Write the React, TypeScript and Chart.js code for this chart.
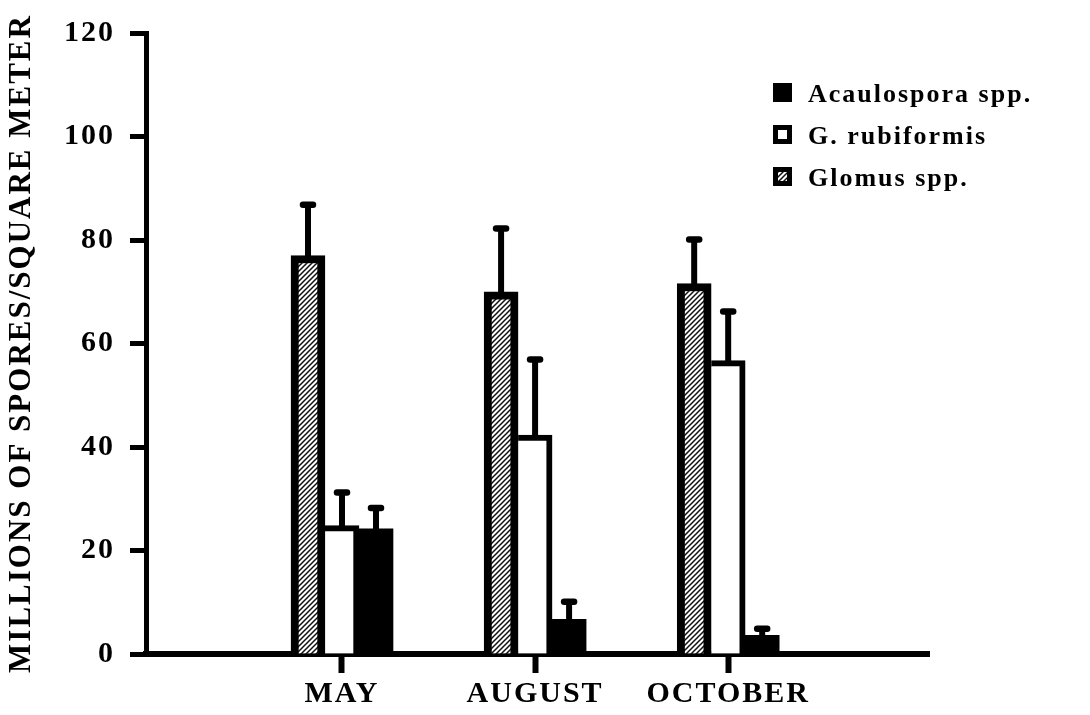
import React, { useEffect, useRef } from 'react';
import { Chart, registerables } from 'chart.js';

Chart.register(...registerables);

// Sampling months along the x axis
const categories = ['MAY', 'AUGUST', 'OCTOBER'];

// Mean spore counts (millions per square meter) and the tops of their error bars
const glomusMeans = [77, 70, 71.6];
const glomusUpper = [86.8, 82.2, 80.1];
const rubiformisMeans = [24.8, 42.3, 56.7];
const rubiformisUpper = [31.2, 56.9, 66.2];
const acaulosporaMeans = [24.2, 6.7, 3.6];
const acaulosporaUpper = [28.2, 10.1, 4.9];

// Series names, in drawing order (left to right within a month)
const seriesNames = ['Glomus spp.', 'G. rubiformis', 'Acaulospora spp.'];

// Y axis tick values and title
const yTicks = [0, 20, 40, 60, 80, 100, 120];
const yTitle = 'MILLIONS OF SPORES/SQUARE METER';

const SERIF = "'Liberation Serif', 'Times New Roman', serif";

function makeHatch(): CanvasPattern | string {
  const size = 5;
  const c = document.createElement('canvas');
  c.width = size;
  c.height = size;
  const g = c.getContext('2d');
  if (!g) return '#fff';
  g.fillStyle = '#fff';
  g.fillRect(0, 0, size, size);
  g.strokeStyle = '#111';
  g.lineWidth = 1.5;
  g.beginPath();
  g.moveTo(-1, size + 1);
  g.lineTo(size + 1, -1);
  g.moveTo(-size / 2 - 1, size / 2 + 1);
  g.lineTo(size / 2 + 1, -size / 2 - 1);
  g.moveTo(size / 2 - 1, size * 1.5 + 1);
  g.lineTo(size * 1.5 + 1, size / 2 - 1);
  g.stroke();
  return g.createPattern(c, 'repeat') || '#fff';
}

const uppers = [glomusUpper, rubiformisUpper, acaulosporaUpper];

// One-sided (upward) error bars with rounded caps
const errorBarsPlugin = {
  id: 'errorBars',
  afterDatasetsDraw(chart: any) {
    const ctx: CanvasRenderingContext2D = chart.ctx;
    const yScale = chart.scales.y;
    chart.data.datasets.forEach((_ds: any, di: number) => {
      const meta = chart.getDatasetMeta(di);
      const upper = uppers[di];
      meta.data.forEach((bar: any, i: number) => {
        const x = bar.x;
        const top = bar.y;
        const yu = yScale.getPixelForValue(upper[i]);
        ctx.save();
        ctx.strokeStyle = '#000';
        ctx.lineWidth = 6;
        ctx.lineCap = 'butt';
        ctx.beginPath();
        ctx.moveTo(x, top + 2);
        ctx.lineTo(x, yu);
        ctx.stroke();
        ctx.lineCap = 'round';
        ctx.lineWidth = 6.5;
        ctx.beginPath();
        ctx.moveTo(x - 5, yu);
        ctx.lineTo(x + 5, yu);
        ctx.stroke();
        ctx.restore();
      });
    });
  },
};

// Wider letter spacing for the axis lettering
const spacingPlugin = {
  id: 'letterSpacing',
  beforeDraw(chart: any) {
    (chart.ctx as any).letterSpacing = '2px';
  },
  afterDraw(chart: any) {
    (chart.ctx as any).letterSpacing = '0px';
  },
};

// Legend in the upper right, listed in reverse drawing order
const legendPlugin = {
  id: 'sporeLegend',
  afterDraw(chart: any) {
    const ctx: CanvasRenderingContext2D = chart.ctx;
    const items = chart.data.datasets.slice().reverse();
    ctx.save();
    (ctx as any).letterSpacing = '2px';
    ctx.font = `bold 26px ${SERIF}`;
    ctx.textBaseline = 'alphabetic';
    ctx.textAlign = 'left';
    items.forEach((ds: any, k: number) => {
      const top = 83 + k * 42;
      const left = 773;
      const box = 19;
      ctx.fillStyle = '#000';
      ctx.fillRect(left, top, box, box);
      if (ds.backgroundColor !== '#000') {
        ctx.fillStyle = ds.backgroundColor;
        ctx.fillRect(left + 5, top + 5, box - 10, box - 10);
      }
      ctx.fillStyle = '#000';
      ctx.fillText(ds.label, 808, top + 19);
    });
    ctx.restore();
  },
};

export default function App() {
  const canvasRef = useRef<HTMLCanvasElement | null>(null);

  useEffect(() => {
    const canvas = canvasRef.current;
    if (!canvas) return;
    const hatch = makeHatch();
    const toPoints = (vals: number[]) => categories.map((_c, i) => ({ x: i + 1, y: vals[i] }));

    const chart = new Chart(canvas, {
      type: 'bar',
      data: {
        datasets: [
          {
            label: seriesNames[0],
            data: toPoints(glomusMeans),
            backgroundColor: hatch as any,
            borderColor: '#000',
            borderWidth: { left: 8, right: 8, top: 8, bottom: 0 },
            borderSkipped: 'start',
            barThickness: 34,
          },
          {
            label: seriesNames[1],
            data: toPoints(rubiformisMeans),
            backgroundColor: '#fff',
            borderColor: '#000',
            borderWidth: { left: 0, right: 6, top: 6, bottom: 0 },
            borderSkipped: 'start',
            barThickness: 34,
          },
          {
            label: seriesNames[2],
            data: toPoints(acaulosporaMeans),
            backgroundColor: '#000',
            borderColor: '#000',
            borderWidth: 0,
            barThickness: 34,
          },
        ] as any,
      },
      options: {
        responsive: false,
        animation: false,
        devicePixelRatio: 1,
        layout: { padding: { top: 23, right: 161, bottom: 0, left: 0 } },
        plugins: {
          legend: { display: false },
          tooltip: { enabled: false },
        },
        scales: {
          x: {
            type: 'linear',
            min: -0.015,
            max: 4.04,
            offset: false,
            z: 1,
            afterFit: (s: any) => {
              s.height = 61;
            },
            afterBuildTicks: (s: any) => {
              s.ticks = categories.map((_c, i) => ({ value: i + 1 }));
            },
            border: { display: true, color: '#000', width: 6 },
            grid: {
              offset: false,
              drawOnChartArea: false,
              drawTicks: true,
              tickLength: 19,
              tickWidth: 6,
              tickColor: '#000',
            },
            ticks: {
              autoSkip: false,
              maxRotation: 0,
              padding: 3,
              color: '#000',
              font: { family: SERIF, weight: 'bold', size: 30 },
              callback: (v: any) => categories[Number(v) - 1] ?? '',
            },
          },
          y: {
            type: 'linear',
            min: 0,
            max: 120,
            z: 1,
            afterFit: (s: any) => {
              s.width = 146;
            },
            afterBuildTicks: (s: any) => {
              s.ticks = yTicks.map((v) => ({ value: v }));
            },
            border: { display: true, color: '#000', width: 5 },
            grid: {
              drawOnChartArea: false,
              drawTicks: true,
              tickLength: 16,
              tickWidth: 5,
              tickColor: '#000',
            },
            ticks: {
              padding: 15,
              color: '#000',
              font: { family: SERIF, weight: 'bold', size: 30 },
            },
            title: {
              display: true,
              text: yTitle,
              color: '#000',
              padding: { top: 6, bottom: 0 },
              font: { family: SERIF, weight: 'bold', size: 31, lineHeight: 1 },
            },
          },
        },
      } as any,
      plugins: [spacingPlugin, errorBarsPlugin, legendPlugin],
    });

    return () => chart.destroy();
  }, []);

  return (
    <div style={{ position: 'absolute', left: 0, top: 0, width: 1090, height: 715, background: '#fff' }}>
      <canvas ref={canvasRef} width={1090} height={715} style={{ display: 'block' }} />
    </div>
  );
}
